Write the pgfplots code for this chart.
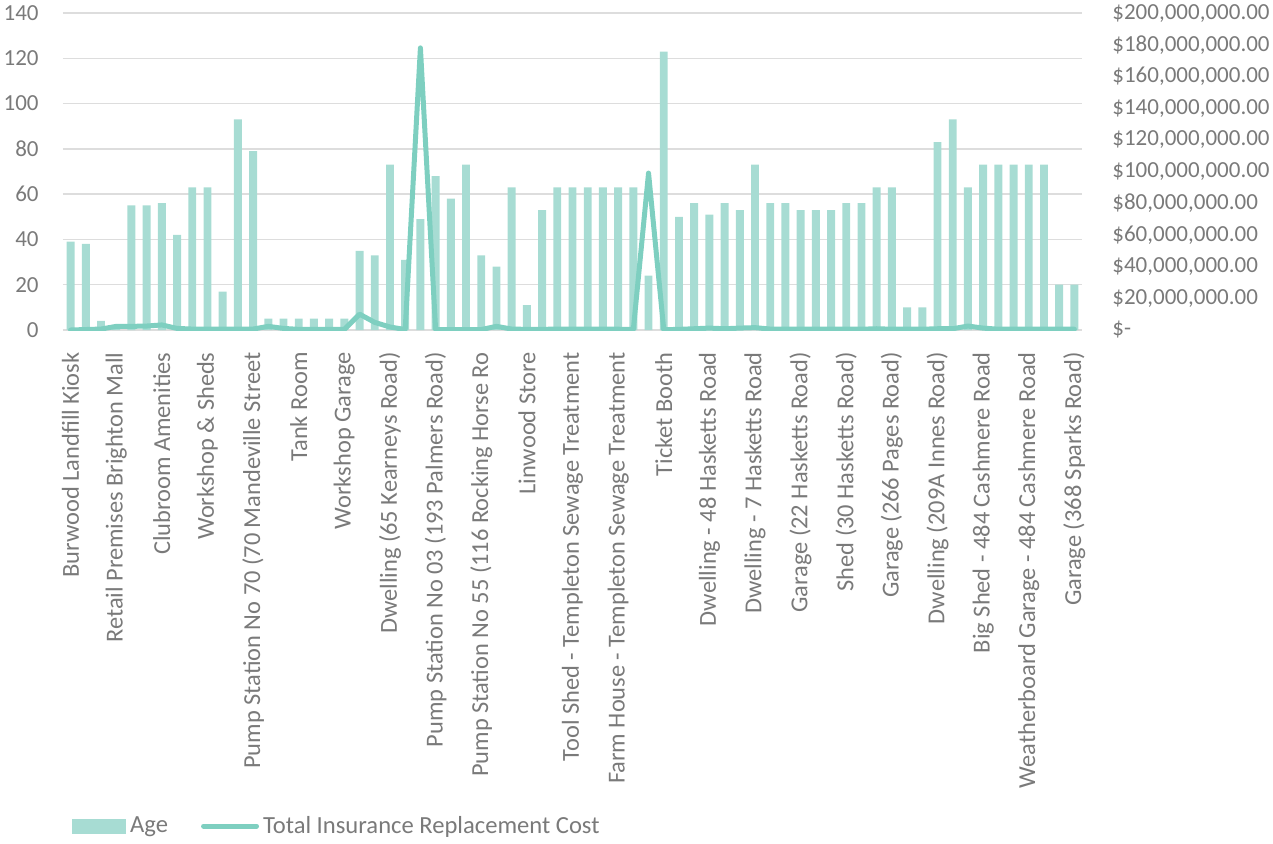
\documentclass[border=0pt]{standalone}
\usepackage{pgfplots}
\pgfplotsset{compat=1.18}
\usepackage{pgfplotstable}
\usepackage{fontspec}
\setmainfont{Carlito}
\definecolor{barcol}{HTML}{A7DCD3}
\definecolor{linecol}{HTML}{7ECFC0}
\definecolor{gridcol}{HTML}{DDDDDD}
\definecolor{textcol}{HTML}{7A7A7A}

\pgfplotstableread{
idx age cost
0 39 0
1 38 0.3
2 4 0.6
3 2 2.3
4 55 2.3
5 55 2.5
6 56 3.2
7 42 1.0
8 63 0.6
9 63 0.6
10 17 0.6
11 93 0.6
12 79 0.6
13 5 2.3
14 5 1.0
15 5 0.4
16 5 0.4
17 5 0.4
18 5 0.4
19 35 10
20 33 4.8
21 73 1.9
22 31 0.3
23 49 178
24 68 0.3
25 58 0.3
26 73 0.3
27 33 0.3
28 28 2.3
29 63 0.6
30 11 0.4
31 53 0.4
32 63 0.6
33 63 0.5
34 63 0.5
35 63 0.5
36 63 0.5
37 63 0.3
38 24 99
39 123 0.2
40 50 0.4
41 56 0.8
42 51 1.2
43 56 0.8
44 53 1.2
45 73 1.5
46 56 0.6
47 56 0.5
48 53 0.5
49 53 0.5
50 53 0.5
51 56 0.5
52 56 0.5
53 63 0.8
54 63 0.5
55 10 0.5
56 10 0.5
57 83 0.8
58 93 0.8
59 63 2.5
60 73 1.2
61 73 0.5
62 73 0.5
63 73 0.5
64 73 0.5
65 20 0.5
66 20 0.5
}\datatable

\begin{document}
\begin{tikzpicture}
\path[use as bounding box] (0,0) rectangle (636.5pt,421.5pt);
\begin{axis}[
  at={(31.5pt,256.5pt)}, anchor=south west,
  scale only axis, width=509.5pt, height=158.5pt,
  xmin=-0.5, xmax=66.5, ymin=0, ymax=140,
  ytick={0,20,...,140},
  axis line style={draw=none},
  major tick length=0pt,
  ymajorgrids, grid style={color=gridcol, line width=0.75pt},
  /pgf/number format/assume math mode=true,
  yticklabel style={font=\fontsize{11.5}{13}\selectfont, text=textcol, inner sep=0pt, xshift=-12pt, anchor=east},
  xtick={0,3,...,66},
  xticklabels={Burwood Landfill Kiosk, Retail Premises Brighton Mall, Clubroom Amenities, Workshop \& Sheds, Pump Station No 70 (70 Mandeville Street, Tank Room, Workshop Garage, Dwelling (65 Kearneys Road), Pump Station No 03 (193 Palmers Road), Pump Station No 55 (116 Rocking Horse Ro, Linwood Store, Tool Shed - Templeton Sewage Treatment, Farm House - Templeton Sewage Treatment, Ticket Booth, Dwelling - 48 Hasketts Road, Dwelling - 7 Hasketts Road, Garage (22 Hasketts Road), Shed (30 Hasketts Road), Garage (266 Pages Road), Dwelling (209A Innes Road), Big Shed - 484 Cashmere Road, Weatherboard Garage - 484 Cashmere Road, Garage (368 Sparks Road)},
  xticklabel style={font=\fontsize{12.2}{14}\selectfont, text=textcol, inner sep=0pt, rotate=90, anchor=east},
  xticklabel shift=11pt,
]
\addplot[ybar, bar width=0.52, bar shift=0pt, fill=barcol, draw=none] table[x=idx, y=age] {\datatable};
\end{axis}
\begin{axis}[
  at={(31.5pt,256.5pt)}, anchor=south west,
  scale only axis, width=509.5pt, height=158.5pt,
  xmin=-0.5, xmax=66.5, ymin=0, ymax=200,
  axis y line*=right, axis x line=none,
  axis line style={draw=none},
  major tick length=0pt,
  ytick={0,20,...,200},
  yticklabels={{\$-},{\$20,000,000.00},{\$40,000,000.00},{\$60,000,000.00},{\$80,000,000.00},{\$100,000,000.00},{\$120,000,000.00},{\$140,000,000.00},{\$160,000,000.00},{\$180,000,000.00},{\$200,000,000.00}},
  yticklabel style={font=\fontsize{11.5}{13}\selectfont, text=textcol, inner sep=0pt, xshift=15pt, anchor=west},
  legend style={at={(0.00883,-1.5647)}, anchor=west, draw=none, fill=none, inner sep=0pt,
    font=\fontsize{12.3}{14}\selectfont, text=textcol, legend columns=2,
    /tikz/every even column/.append style={column sep=14.5pt}},
  legend cell align=left,
]
\addlegendimage{legend image code/.code={\fill[barcol] (0pt,-3.5pt) rectangle (26.5pt,3.5pt);}}
\addlegendentry{Age}
\addplot[color=linecol, line width=2.5pt, line join=round, line cap=round, mark=none,
  legend image code/.code={\draw[linecol, line width=2.5pt, line cap=round] (0.5pt,0pt) -- (27pt,0pt);}]
  table[x=idx, y=cost] {\datatable};
\addlegendentry{Total Insurance Replacement Cost}
\end{axis}
\end{tikzpicture}
\end{document}
